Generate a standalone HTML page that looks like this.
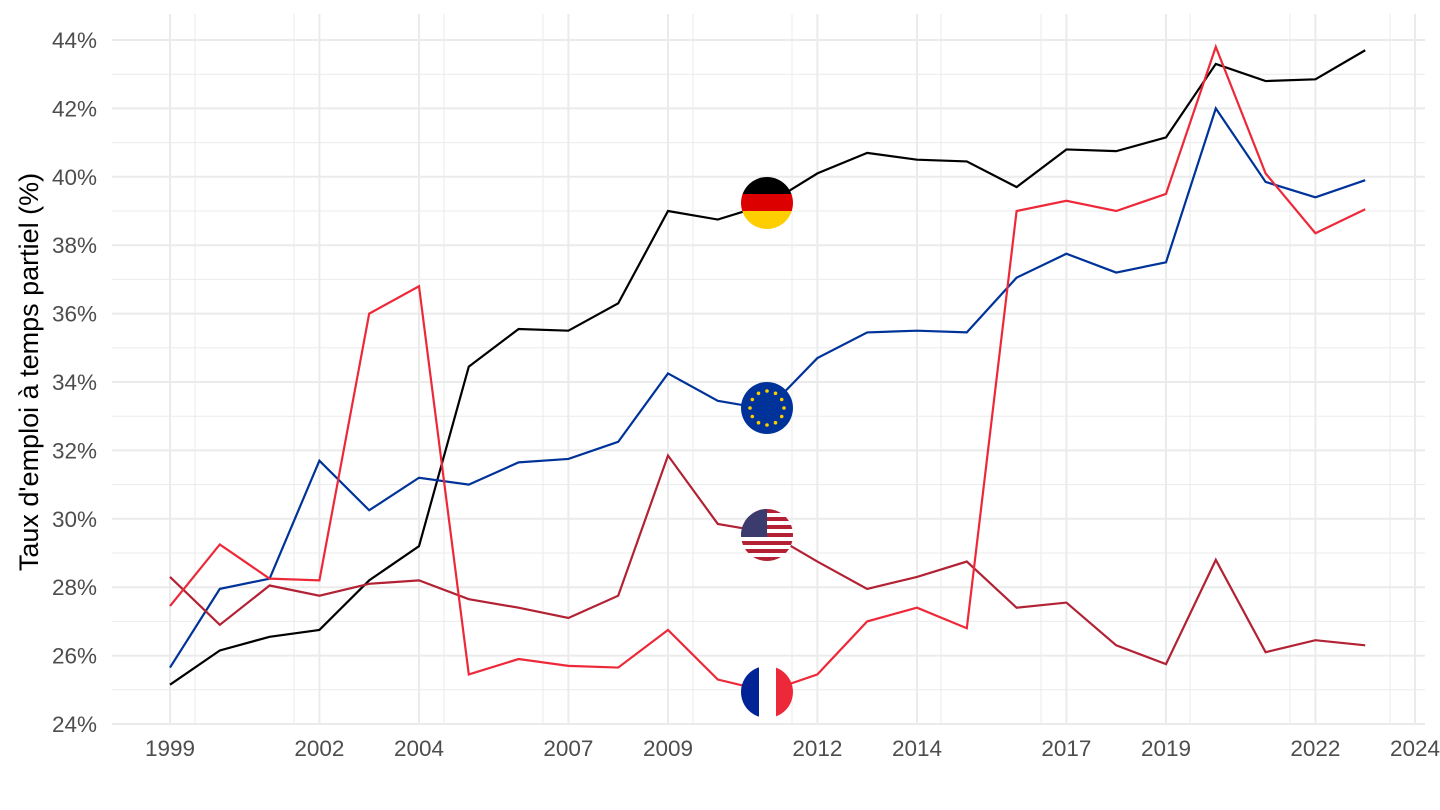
<!DOCTYPE html>
<html><head><meta charset="utf-8"><style>body{margin:0;background:#fff}svg{display:block}</style></head>
<body>
<svg width="1440" height="810" xmlns="http://www.w3.org/2000/svg" font-family="Liberation Sans, sans-serif">
<g stroke="#ebebeb" stroke-width="1">
<line x1="112" x2="1425" y1="689.8" y2="689.8"/><line x1="112" x2="1425" y1="621.4" y2="621.4"/><line x1="112" x2="1425" y1="553" y2="553"/><line x1="112" x2="1425" y1="484.6" y2="484.6"/><line x1="112" x2="1425" y1="416.2" y2="416.2"/><line x1="112" x2="1425" y1="347.8" y2="347.8"/><line x1="112" x2="1425" y1="279.4" y2="279.4"/><line x1="112" x2="1425" y1="211" y2="211"/><line x1="112" x2="1425" y1="142.6" y2="142.6"/><line x1="112" x2="1425" y1="74.2" y2="74.2"/>
<line x1="195" x2="195" y1="14" y2="724"/><line x1="294" x2="294" y1="14" y2="724"/><line x1="444" x2="444" y1="14" y2="724"/><line x1="543" x2="543" y1="14" y2="724"/><line x1="693" x2="693" y1="14" y2="724"/><line x1="792" x2="792" y1="14" y2="724"/><line x1="941" x2="941" y1="14" y2="724"/><line x1="1041" x2="1041" y1="14" y2="724"/><line x1="1190" x2="1190" y1="14" y2="724"/><line x1="1290" x2="1290" y1="14" y2="724"/><line x1="1390" x2="1390" y1="14" y2="724"/>
</g>
<g stroke="#ebebeb" stroke-width="2">
<line x1="112" x2="1425" y1="724" y2="724"/><line x1="112" x2="1425" y1="655.6" y2="655.6"/><line x1="112" x2="1425" y1="587.2" y2="587.2"/><line x1="112" x2="1425" y1="518.8" y2="518.8"/><line x1="112" x2="1425" y1="450.4" y2="450.4"/><line x1="112" x2="1425" y1="382" y2="382"/><line x1="112" x2="1425" y1="313.6" y2="313.6"/><line x1="112" x2="1425" y1="245.2" y2="245.2"/><line x1="112" x2="1425" y1="176.8" y2="176.8"/><line x1="112" x2="1425" y1="108.4" y2="108.4"/><line x1="112" x2="1425" y1="40" y2="40"/>
<line x1="170" x2="170" y1="14" y2="724"/><line x1="319.4" x2="319.4" y1="14" y2="724"/><line x1="419" x2="419" y1="14" y2="724"/><line x1="568.4" x2="568.4" y1="14" y2="724"/><line x1="668" x2="668" y1="14" y2="724"/><line x1="817.4" x2="817.4" y1="14" y2="724"/><line x1="917" x2="917" y1="14" y2="724"/><line x1="1066.4" x2="1066.4" y1="14" y2="724"/><line x1="1166" x2="1166" y1="14" y2="724"/><line x1="1315.4" x2="1315.4" y1="14" y2="724"/><line x1="1415" x2="1415" y1="14" y2="724"/>
</g>
<g font-size="22.5" fill="#4d4d4d" text-anchor="end">
<text x="97" y="732">24%</text><text x="97" y="663.6">26%</text><text x="97" y="595.2">28%</text><text x="97" y="526.8">30%</text><text x="97" y="458.4">32%</text><text x="97" y="390">34%</text><text x="97" y="321.6">36%</text><text x="97" y="253.2">38%</text><text x="97" y="184.8">40%</text><text x="97" y="116.4">42%</text><text x="97" y="48">44%</text>
</g>
<g font-size="22.5" fill="#4d4d4d" text-anchor="middle">
<text x="170" y="756">1999</text><text x="319.4" y="756">2002</text><text x="419" y="756">2004</text><text x="568.4" y="756">2007</text><text x="668" y="756">2009</text><text x="817.4" y="756">2012</text><text x="917" y="756">2014</text><text x="1066.4" y="756">2017</text><text x="1166" y="756">2019</text><text x="1315.4" y="756">2022</text><text x="1415" y="756">2024</text>
</g>
<text transform="translate(38,372) rotate(-90)" text-anchor="middle" font-size="27" fill="#000">Taux d'emploi à temps partiel (%)</text>
<g transform="translate(170,724) scale(49.8,-34.2)" fill="none" stroke-width="2.2">
<polyline vector-effect="non-scaling-stroke" stroke="#000" points="0,1.15 1,2.15 2,2.55 3,2.75 4,4.2 5,5.2 6,10.45 7,11.55 8,11.5 9,12.3 10,15 11,14.75 12,15.2 13,16.1 14,16.7 15,16.5 16,16.45 17,15.7 18,16.8 19,16.75 20,17.15 21,19.3 22,18.8 23,18.85 24,19.7"/>
<polyline vector-effect="non-scaling-stroke" stroke="#003399" points="0,1.65 1,3.95 2,4.25 3,7.7 4,6.25 5,7.2 6,7 7,7.65 8,7.75 9,8.25 10,10.25 11,9.45 12,9.2 13,10.7 14,11.45 15,11.5 16,11.45 17,13.05 18,13.75 19,13.2 20,13.5 21,18 22,15.85 23,15.4 24,15.9"/>
<polyline vector-effect="non-scaling-stroke" stroke="#b22234" points="0,4.3 1,2.9 2,4.05 3,3.75 4,4.1 5,4.2 6,3.65 7,3.4 8,3.1 9,3.75 10,7.85 11,5.85 12,5.6 13,4.75 14,3.95 15,4.3 16,4.75 17,3.4 18,3.55 19,2.3 20,1.75 21,4.8 22,2.1 23,2.45 24,2.3"/>
<polyline vector-effect="non-scaling-stroke" stroke="#ed2939" points="0,3.45 1,5.25 2,4.25 3,4.2 4,12 5,12.8 6,1.45 7,1.9 8,1.7 9,1.65 10,2.75 11,1.3 12,0.95 13,1.45 14,3 15,3.4 16,2.8 17,15 18,15.3 19,15 20,15.5 21,19.8 22,16.1 23,14.35 24,15.05"/>
</g>
<defs>
<clipPath id="c1"><circle cx="767" cy="203" r="26"/></clipPath>
<clipPath id="c2"><circle cx="767" cy="408" r="26"/></clipPath>
<clipPath id="c3"><circle cx="767" cy="535" r="26"/></clipPath>
<clipPath id="c4"><circle cx="767" cy="692" r="26"/></clipPath>
</defs>
<g clip-path="url(#c1)"><rect x="741" y="177" width="52" height="18" fill="#000"/><rect x="741" y="194" width="52" height="18" fill="#dd0000"/><rect x="741" y="211" width="52" height="18" fill="#ffce00"/></g>
<g clip-path="url(#c2)"><rect x="741" y="382" width="52" height="52" fill="#003399"/>
<g fill="#ffcc00"><circle cx="784" cy="408" r="1.8"/><circle cx="781.7" cy="416.5" r="1.8"/><circle cx="775.5" cy="422.7" r="1.8"/><circle cx="767" cy="425" r="1.8"/><circle cx="758.5" cy="422.7" r="1.8"/><circle cx="752.3" cy="416.5" r="1.8"/><circle cx="750" cy="408" r="1.8"/><circle cx="752.3" cy="399.5" r="1.8"/><circle cx="758.5" cy="393.3" r="1.8"/><circle cx="767" cy="391" r="1.8"/><circle cx="775.5" cy="393.3" r="1.8"/><circle cx="781.7" cy="399.5" r="1.8"/></g></g>
<g clip-path="url(#c3)"><rect x="741" y="509" width="52" height="52" fill="#fff"/>
<g fill="#b22234"><rect x="741" y="509" width="52" height="4"/><rect x="741" y="517" width="52" height="4"/><rect x="741" y="525" width="52" height="4"/><rect x="741" y="533" width="52" height="4"/><rect x="741" y="541" width="52" height="4"/><rect x="741" y="549" width="52" height="4"/><rect x="741" y="557" width="52" height="4"/></g>
<rect x="741" y="509" width="26" height="28" fill="#3c3b6e"/></g>
<g clip-path="url(#c4)"><rect x="741" y="666" width="18" height="52" fill="#002395"/><rect x="759" y="666" width="17" height="52" fill="#fff"/><rect x="776" y="666" width="17" height="52" fill="#ed2939"/></g>
</svg>
</body></html>
